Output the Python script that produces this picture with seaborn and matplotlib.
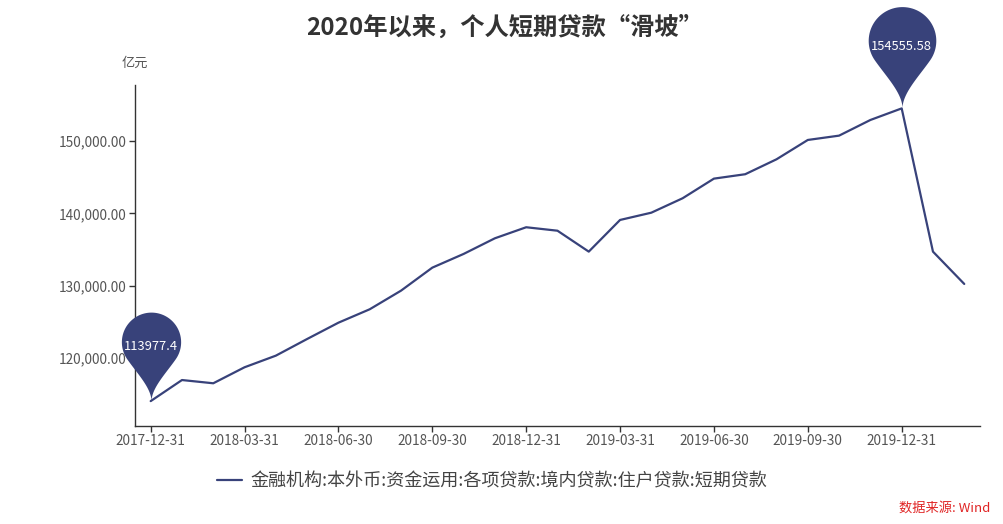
import numpy as np
import pandas as pd
import matplotlib
matplotlib.use("Agg")
import matplotlib.pyplot as plt
from matplotlib.path import Path
import seaborn as sns

# Data
dates = ["2017-12-31", "2018-01-31", "2018-02-28", "2018-03-31", "2018-04-30", "2018-05-31",
         "2018-06-30", "2018-07-31", "2018-08-31", "2018-09-30", "2018-10-31", "2018-11-30",
         "2018-12-31", "2019-01-31", "2019-02-28", "2019-03-31", "2019-04-30", "2019-05-31",
         "2019-06-30", "2019-07-31", "2019-08-31", "2019-09-30", "2019-10-31", "2019-11-30",
         "2019-12-31", "2020-01-31", "2020-02-29"]
values = [113977.4, 116900, 116450, 118670, 120280, 122590,
          124850, 126710, 129290, 132480, 134380, 136550,
          138080, 137600, 134700, 139090, 140100, 142100,
          144820, 145430, 147500, 150180, 150780, 152950,
          154555.58, 134700, 130220]
series_name = "金融机构:本外币:资金运用:各项贷款:境内贷款:住户贷款:短期贷款"

df = pd.DataFrame({"date": dates, "value": values})
df["pos"] = range(len(df))

sns.set_theme(style="white")
plt.rcParams["font.family"] = ["Noto Sans CJK SC", "DejaVu Sans"]

navy = "#38427a"

fig = plt.figure(figsize=(10.04, 5.24), dpi=100)
ax = fig.add_axes([0.1345, 0.1876, 0.8415, 0.6502])

sns.lineplot(data=df, x="pos", y="value", ax=ax, color=navy, linewidth=1.6,
             label=series_name, legend=False)

# pin shaped marker (tip at origin)
def pin_path(c=2.0, k=0.6, a=215):
    t = np.linspace(0, 1, 30)
    th = np.radians(a)
    pl = np.array([np.cos(th), c + np.sin(th)])
    d = np.array([np.sin(th), -np.cos(th)])
    p0, p1, p2, p3 = np.array([0, 0]), np.array([0, 0.45]), pl - k * d, pl
    left = ((1 - t) ** 3)[:, None] * p0 + (3 * (1 - t) ** 2 * t)[:, None] * p1 \
        + (3 * (1 - t) * t ** 2)[:, None] * p2 + (t ** 3)[:, None] * p3
    ang = np.radians(np.linspace(a, -(a - 180), 80))
    arc = np.column_stack([np.cos(ang), c + np.sin(ang)])
    right = left[::-1] * np.array([-1, 1])
    verts = np.vstack([left, arc, right])
    return Path(verts)

pin = pin_path()
imin = int(np.argmin(values))
imax = int(np.argmax(values))
for i, ms, dy, lab in [(imin, 128, 39.5, "113977.4"), (imax, 146, 44.5, "154555.58")]:
    ax.plot(df["pos"][i], df["value"][i], marker=pin, markersize=ms,
            color=navy, markeredgewidth=0, linestyle="none", zorder=5, clip_on=False)
    ax.annotate(lab, xy=(df["pos"][i], df["value"][i]), xytext=(0, dy),
                textcoords="offset points", ha="center", va="center",
                color="white", fontsize=9.3, zorder=6, annotation_clip=False)

ax.set_xlim(-0.5, len(df) - 0.5)
ax.set_ylim(110570, 157800)
ax.set_xticks(df["pos"][::3])
ax.set_xticklabels(df["date"][::3])
ax.set_yticks([120000, 130000, 140000, 150000])
ax.set_yticklabels([f"{v:,.2f}" for v in [120000, 130000, 140000, 150000]])
ax.set_xlabel("")
ax.set_ylabel("")
ax.tick_params(axis="both", which="both", direction="out", length=4, width=1,
               color="#333333", labelsize=9.8, labelcolor="#555555", pad=2,
               bottom=True, left=True)
for s in ["top", "right"]:
    ax.spines[s].set_visible(False)
for s in ["left", "bottom"]:
    ax.spines[s].set_color("#333333")
    ax.spines[s].set_linewidth(1)
ax.grid(False)

fig.text(0.503, 1 - 28 / 524, "2020年以来，个人短期贷款“滑坡”", ha="center", va="center",
         fontsize=17.5, fontweight="bold", color="#333333")
fig.text(135 / 1004, 1 - 63 / 524, "亿元", ha="center", va="center", fontsize=9.5, color="#555555")

handles, labels = ax.get_legend_handles_labels()
fig.legend(handles, labels, loc="center", bbox_to_anchor=(0.49, 1 - 481 / 524), frameon=False,
           fontsize=13, handlelength=1.4, handletextpad=0.45, labelcolor="#444444")

fig.text(0.986, 1 - 508 / 524, "数据来源: Wind", ha="right", va="center", fontsize=9.5,
         color="#e02525", style="italic")

fig.savefig("out.png", dpi=100)
